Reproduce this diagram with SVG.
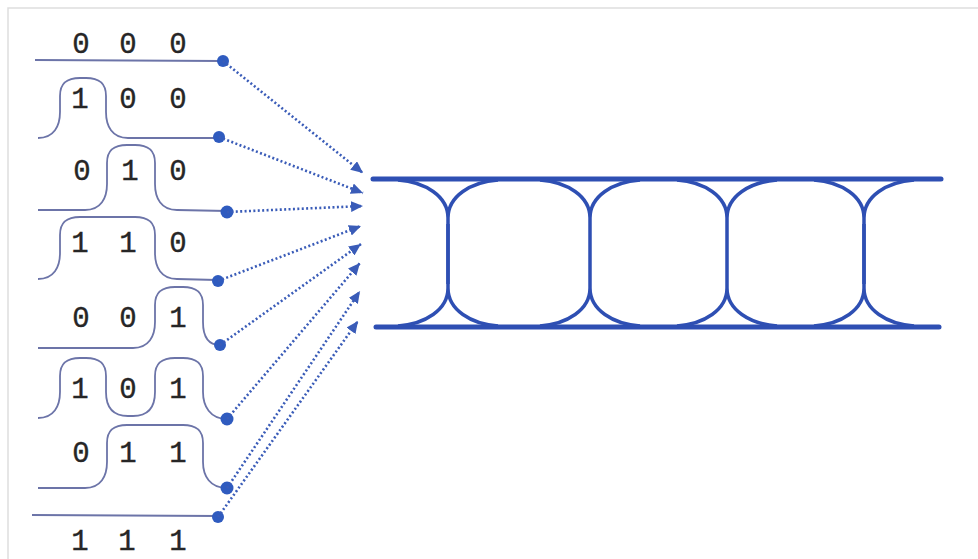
<svg xmlns="http://www.w3.org/2000/svg" width="978" height="559" viewBox="0 0 978 559">
<style>
.wave{fill:none;stroke:#6c74a8;stroke-width:1.8}
.dig{font-family:"Liberation Mono","DejaVu Sans Mono",monospace;font-size:29px;fill:#262626;stroke:#262626;stroke-width:0.4;text-anchor:middle}
.dot{fill:#2f5bbf}
.conn{fill:none;stroke:#3a5cb8;stroke-width:2.6;stroke-dasharray:2 2.4}
.eye{fill:none;stroke:#2e4fb3;stroke-width:3.5}
.rail{fill:none;stroke:#2e4fb3;stroke-width:5;stroke-linecap:round}
.border{fill:none;stroke:#dedede;stroke-width:1.5}
</style>
<defs>
<marker id="ah" markerUnits="userSpaceOnUse" markerWidth="13" markerHeight="11" refX="12" refY="5.5" orient="auto">
<path d="M0,0 L12,5.5 L0,11 z" fill="#3a5cb8"/>
</marker>
</defs>
<rect width="978" height="559" fill="#fff"/>
<path class="border" d="M8,559 L8,8 L978,8"/>

<g id="row1">
<text class="dig" x="81" y="53">0</text><text class="dig" x="128" y="53">0</text><text class="dig" x="178" y="53">0</text>
<path class="wave" d="M35,60 L222,61"/>
<circle class="dot" cx="223" cy="61" r="6"/>
</g>
<g id="row2">
<text class="dig" x="80" y="108">1</text><text class="dig" x="128" y="108">0</text><text class="dig" x="178" y="108">0</text>
<path class="wave" d="M38,138 C54,138 60,126 60,112 L60,96 C60,83 67,78 80,78 L86,78 C99,78 106,83 106,96 L106,112 C106,126 112,138 128,138 L218,138"/>
<circle class="dot" cx="219" cy="137" r="6"/>
</g>
<g id="row3">
<text class="dig" x="82" y="180">0</text><text class="dig" x="130" y="180">1</text><text class="dig" x="178" y="180">0</text>
<path class="wave" d="M38,210 L85,210 C101,210 107,198 107,184 L107,163 C107,150 114,145 127,145 L135,145 C148,145 155,150 155,163 L155,184 C155,198 161,210 177,210 L227,211"/>
<circle class="dot" cx="227" cy="212" r="6.5"/>
</g>
<g id="row4">
<text class="dig" x="80" y="252">1</text><text class="dig" x="128" y="252">1</text><text class="dig" x="178" y="252">0</text>
<path class="wave" d="M38,279 C54,279 60,267 60,253 L60,235 C60,222 67,217 80,217 L135,217 C148,217 155,222 155,235 L155,253 C155,267 161,279 177,279 L217,280"/>
<circle class="dot" cx="218" cy="281" r="6"/>
</g>
<g id="row5">
<text class="dig" x="81" y="327">0</text><text class="dig" x="128" y="327">0</text><text class="dig" x="178" y="327">1</text>
<path class="wave" d="M38,348 L133,348 C149,348 155,336 155,322 L155,305 C155,292 162,287 175,287 L183,287 C196,287 203,292 203,305 L203,322 C203,336 208,345 220,345"/>
<circle class="dot" cx="220" cy="345" r="6"/>
</g>
<g id="row6">
<text class="dig" x="80" y="398">1</text><text class="dig" x="128" y="398">0</text><text class="dig" x="178" y="398">1</text>
<path class="wave" d="M38,418 C54,418 60,406 60,392 L60,376 C60,363 67,358 80,358 L86,358 C99,358 106,363 106,376 L106,392 C106,406 112,416 128,416 L133,416 C149,416 155,406 155,392 L155,376 C155,363 162,358 175,358 L183,358 C196,358 203,363 203,376 L203,392 C203,406 210,419 227,419"/>
<circle class="dot" cx="227" cy="419" r="6.5"/>
</g>
<g id="row7">
<text class="dig" x="81" y="462">0</text><text class="dig" x="128" y="462">1</text><text class="dig" x="178" y="462">1</text>
<path class="wave" d="M38,488 L85,488 C101,488 107,476 107,462 L107,443 C107,430 114,425 127,425 L183,425 C196,425 203,430 203,443 L203,462 C203,476 210,488 227,488"/>
<circle class="dot" cx="227" cy="488" r="6.5"/>
</g>
<g id="row8">
<path class="wave" d="M32,515 L218,516"/>
<circle class="dot" cx="218" cy="517" r="6"/>
<text class="dig" x="80" y="550">1</text><text class="dig" x="127" y="550">1</text><text class="dig" x="178" y="550">1</text>
</g>

<g id="eye">
<path class="rail" d="M373,179 L941,179"/>
<path class="rail" d="M376,327 L939,327"/>
<path class="eye" d="M398,180 C425,182 448,196 448,218 L448,288 C448,310 425,324 398,326 M498,180 C471,182 448,196 448,218 L448,288 C448,310 471,324 498,326"/>
<path class="eye" d="M540,180 C567,182 590,196 590,218 L590,288 C590,310 567,324 540,326 M640,180 C613,182 590,196 590,218 L590,288 C590,310 613,324 640,326"/>
<path class="eye" d="M677,180 C704,182 727,196 727,218 L727,288 C727,310 704,324 677,326 M777,180 C750,182 727,196 727,218 L727,288 C727,310 750,324 777,326"/>
<path class="eye" d="M814,180 C841,182 864,196 864,218 L864,288 C864,310 841,324 814,326 M914,180 C887,182 864,196 864,218 L864,288 C864,310 887,324 914,326"/>
<path class="eye" stroke-width="7" d="M448,224 L448,284 M864,224 L864,284"/>
</g>

<g id="connectors">
<path class="conn" marker-end="url(#ah)" d="M223,61 L363,173"/>
<path class="conn" marker-end="url(#ah)" d="M219,137 L363,193"/>
<path class="conn" marker-end="url(#ah)" d="M227,212 L363,206"/>
<path class="conn" marker-end="url(#ah)" d="M218,281 L361,226"/>
<path class="conn" marker-end="url(#ah)" d="M220,345 L361,244"/>
<path class="conn" marker-end="url(#ah)" d="M227,419 L360,263"/>
<path class="conn" marker-end="url(#ah)" d="M227,488 L360,291"/>
<path class="conn" marker-end="url(#ah)" d="M218,517 L358,321"/>
</g>
</svg>
